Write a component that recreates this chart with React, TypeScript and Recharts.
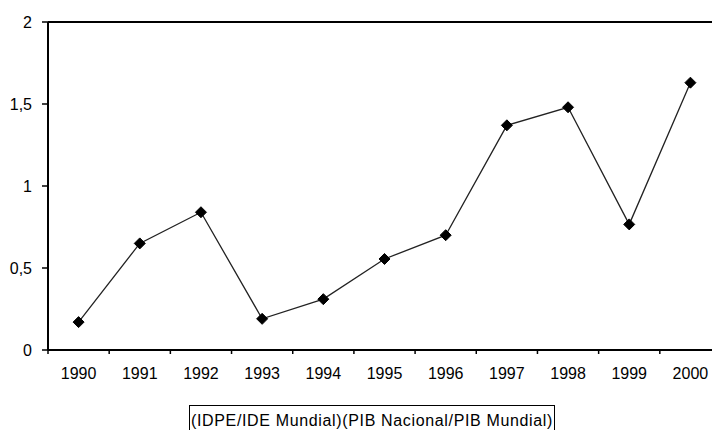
import React from 'react';
import { LineChart, Line, XAxis, YAxis, Legend, ReferenceLine } from 'recharts';

// ratio (IDPE/IDE Mundial)/(PIB Nacional/PIB Mundial)
const years = [1990, 1991, 1992, 1993, 1994, 1995, 1996, 1997, 1998, 1999, 2000];
const ratio = [0.17, 0.65, 0.84, 0.19, 0.31, 0.555, 0.7, 1.37, 1.48, 0.766, 1.63];
const yTicks = [0, 0.5, 1, 1.5, 2];
const seriesName = '(IDPE/IDE Mundial)(PIB Nacional/PIB Mundial)';

const data = years.map((year, i) => ({ year, value: ratio[i] }));
const xDomain = [years[0] - 0.5, years[years.length - 1] + 0.5];
// tick marks sit between the categories, like the old Excel chart
const edgeTicks = [...years.map((y) => y - 0.5), years[years.length - 1] + 0.5];

const FONT = '"Liberation Sans", Arial, sans-serif';

const Diamond = (props: any) => {
  const { cx, cy } = props;
  if (cx == null || cy == null) return null;
  const r = 5.5;
  return (
    <polygon
      points={`${cx},${cy - r} ${cx + r},${cy} ${cx},${cy + r} ${cx - r},${cy}`}
      fill="#000"
      stroke="#000"
    />
  );
};

const LegendBox = () => (
  <div
    style={{
      border: '1px solid #000',
      borderBottom: 'none',
      height: 25,
      boxSizing: 'border-box',
      fontFamily: FONT,
      fontSize: 16,
      letterSpacing: 0.65,
      color: '#000',
      paddingLeft: 1,
      paddingTop: 6,
      lineHeight: '18px',
      whiteSpace: 'nowrap',
    }}
  >
    {seriesName}
  </div>
);

const App = () => {
  return (
    <div style={{ width: 712, height: 430, background: '#fff', overflow: 'hidden' }}>
      <style>{'body{margin:0}'}</style>
      <LineChart
        width={712}
        height={430}
        data={data}
        margin={{ top: 22, right: -9, bottom: 0, left: 0 }}
      >
        {/* axis 0 sits right on the plot edge: line + tick marks only */}
        <XAxis
          dataKey="year"
          type="number"
          domain={xDomain}
          ticks={edgeTicks}
          tickFormatter={() => ''}
          tickSize={4}
          height={1}
          axisLine={{ stroke: '#000', strokeWidth: 2 }}
          tickLine={{ stroke: '#000', strokeWidth: 1.5 }}
        />
        <XAxis
          xAxisId="labels"
          dataKey="year"
          type="number"
          domain={xDomain}
          ticks={years}
          interval={0}
          axisLine={false}
          tickLine={false}
          tickSize={4}
          tickMargin={13}
          height={49}
          tick={{ fill: '#000', fontSize: 16, fontFamily: FONT }}
        />
        <YAxis
          domain={[0, 2]}
          ticks={yTicks}
          width={48}
          tickSize={6}
          tickMargin={10}
          tickFormatter={(v: number) => String(v).replace('.', ',')}
          axisLine={{ stroke: '#000', strokeWidth: 2 }}
          tickLine={{ stroke: '#000', strokeWidth: 1.5 }}
          tick={{ fill: '#000', fontSize: 16, fontFamily: FONT }}
        />
        <ReferenceLine y={2} stroke="#000" strokeWidth={2} />
        <Legend
          verticalAlign="bottom"
          height={30}
          content={<LegendBox />}
          wrapperStyle={{ left: 189, top: 405, width: 366, height: 30 }}
        />
        <Line
          type="linear"
          dataKey="value"
          name={seriesName}
          stroke="#222"
          strokeWidth={1.3}
          dot={<Diamond />}
          activeDot={false}
          isAnimationActive={false}
        />
      </LineChart>
    </div>
  );
};

export default App;
